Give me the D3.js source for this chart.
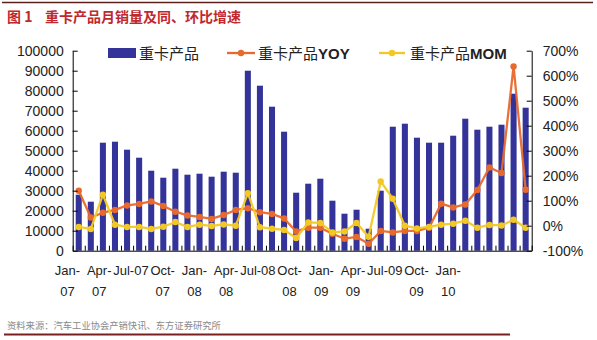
<!DOCTYPE html>
<html><head><meta charset="utf-8">
<script src="https://cdn.jsdelivr.net/npm/d3@7"></script>
<style>
body{margin:0;background:#fff;}
svg{display:block;font-family:"Liberation Sans",Arial,sans-serif;}
</style></head>
<body><svg id="c" width="597" height="340"></svg>
<script>
const months = ["Jan-07","Feb-07","Mar-07","Apr-07","May-07","Jun-07","Jul-07","Aug-07","Sep-07","Oct-07","Nov-07","Dec-07",
"Jan-08","Feb-08","Mar-08","Apr-08","May-08","Jun-08","Jul-08","Aug-08","Sep-08","Oct-08","Nov-08","Dec-08",
"Jan-09","Feb-09","Mar-09","Apr-09","May-09","Jun-09","Jul-09","Aug-09","Sep-09","Oct-09","Nov-09","Dec-09",
"Jan-10","Feb-10"];
const sales = [28000,24500,54000,54500,50500,46500,40000,36500,41000,38000,38500,37000,
39500,39000,90000,82500,72000,59500,29000,33500,36000,25000,18500,20500,
11000,30000,62000,63500,56500,54000,54000,57500,66000,60500,62000,63000,
78500,71500];
const yoy = [140,33,52,63,81,87,97,79,56,41,35,27,
43,63,70,54,47,29,-23,-8,-8,-32,-52,-45,
-72,-21,-27,-21,-21,-8,88,73,85,143,233,211,
637,144];
const mom = [-5,-13,124,4,-5,-5,-13,-4,15,-5,4,-1,
5,0,130,-6,-12,-17,-49,13,11,-27,-23,11,
-44,177,108,0,-11,-5,4,8,20,-8,3,1,
24,-8];
const tickLabels = ["Jan-07","Apr-07","Jul-07","Oct-07","Jan-08","Apr-08","Jul-08","Oct-08","Jan-09","Apr-09","Jul-09","Oct-09","Jan-10"];
const leftTicks = [0,10000,20000,30000,40000,50000,60000,70000,80000,90000,100000];
const rightTicks = [-100,0,100,200,300,400,500,600,700];
const seriesNames = ["重卡产品","重卡产品YOY","重卡产品MOM"];

const svg = d3.select("#c");
const X0 = 72.7, X1 = 531.7, Y0 = 250.7, Y1 = 50.7;
const C_BAR = "#333399", C_YOY = "#e8692c", C_MOM = "#f4c823", C_TITLE = "#c0282d";

const x = d3.scaleBand().domain(months).range([X0, X1]).paddingInner(0.5).paddingOuter(0.25);
const xi = d3.scaleLinear().domain([0, months.length]).range([X0, X1]);
const yL = d3.scaleLinear().domain([0, 100000]).range([Y0, Y1]);
const yR = d3.scaleLinear().domain([-100, 700]).range([Y0, Y1]);
const xl = d3.scalePoint().domain(tickLabels).range([67, 447.7]);

// top & bottom rules
svg.append("line").attr("x1",2).attr("x2",593).attr("y1",2.5).attr("y2",2.5).attr("stroke","#5c1f1a").attr("stroke-width",1.5);
svg.append("line").attr("x1",4).attr("x2",510).attr("y1",334.5).attr("y2",334.5).attr("stroke","#7a1f1f").attr("stroke-width",2);

// title
const t = svg.append("text").attr("x",7).attr("y",22).attr("fill",C_TITLE).attr("font-weight","bold").attr("font-size",14)
  .attr("font-family","'Noto Sans CJK SC',sans-serif");
t.append("tspan").text("图 1");
t.append("tspan").attr("x",45).text("重卡产品月销量及同、环比增速");

// bars
svg.append("g").selectAll("rect").data(sales).join("rect")
  .attr("x",(d,i)=>x(months[i])).attr("width",x.bandwidth())
  .attr("y",d=>yL(d)).attr("height",d=>Y0-yL(d)).attr("fill",C_BAR);

// lines
function drawLine(data, color){
  const g = svg.append("g");
  const line = d3.line().x((d,i)=>x(months[i])+x.bandwidth()/2).y(d=>yR(d));
  g.append("path").datum(data).attr("d",line).attr("fill","none").attr("stroke",color).attr("stroke-width",2.3).attr("stroke-linejoin","round").attr("opacity",0.95);
  g.selectAll("circle").data(data).join("circle")
    .attr("cx",(d,i)=>x(months[i])+x.bandwidth()/2).attr("cy",d=>yR(d)).attr("r",3.2).attr("fill",color);
}
drawLine(yoy, C_YOY);
drawLine(mom, C_MOM);

// axes
const axL = svg.append("g").attr("transform",`translate(${X0},0)`)
  .call(d3.axisLeft(yL).tickValues(leftTicks).tickSizeInner(-5).tickSizeOuter(0).tickPadding(9).tickFormat(d3.format("d")));
const axR = svg.append("g").attr("transform",`translate(${X1},0)`)
  .call(d3.axisRight(yR).tickValues(rightTicks).tickSizeInner(-5).tickSizeOuter(0).tickPadding(11).tickFormat(d=>d+"%"));
const axB = svg.append("g").attr("transform",`translate(0,${Y0})`)
  .call(d3.axisBottom(xi).tickValues(d3.range(0, months.length+1)).tickSizeInner(-5).tickSizeOuter(0).tickFormat(""));
[axL,axR,axB].forEach(a=>{
  a.selectAll("path,line").attr("stroke","#000").attr("stroke-width",1);
  a.selectAll("text").attr("font-size",14).attr("fill","#222").attr("font-family","'Liberation Sans',Arial,sans-serif");
});

// category labels
const axLab = svg.append("g").attr("transform",`translate(0,${Y0})`)
  .call(d3.axisBottom(xl).tickSize(0).tickPadding(0));
axLab.select(".domain").remove();
axLab.selectAll("text").attr("font-size",13).attr("fill","#222").attr("font-family","'Liberation Sans',Arial,sans-serif")
  .attr("y",0).attr("dy",null)
  .each(function(d){
    const el = d3.select(this);
    el.text(null);
    if (d.startsWith("Jul")) {
      el.append("tspan").attr("x",0).attr("y",24).text(d);
    } else {
      const p = d.split("-");
      el.append("tspan").attr("x",0).attr("y",24).text(p[0]+"-");
      el.append("tspan").attr("x",0).attr("y",45).text(p[1]);
    }
  });

// legend
const lg = svg.append("g").attr("font-size",15).attr("fill","#222").attr("font-family","'Noto Sans CJK SC',sans-serif");
lg.append("rect").attr("x",108).attr("y",48).attr("width",28).attr("height",10).attr("fill",C_BAR);
lg.append("text").attr("x",139).attr("y",58.5).text(seriesNames[0]);
function legLine(x1,x2,color,tx,name){
  lg.append("line").attr("x1",x1).attr("x2",x2).attr("y1",53).attr("y2",53).attr("stroke",color).attr("stroke-width",2.3);
  lg.append("circle").attr("cx",(x1+x2)/2).attr("cy",53).attr("r",3.2).attr("fill",color);
  const tt = lg.append("text").attr("x",tx).attr("y",58.5);
  tt.append("tspan").text(name.slice(0,4));
  tt.append("tspan").attr("font-weight","bold").attr("font-family","'Liberation Sans',Arial,sans-serif").text(name.slice(4));
}
legLine(227,255,C_YOY,258,seriesNames[1]);
legLine(379,405,C_MOM,410,seriesNames[2]);

// footer
svg.append("text").attr("x",7).attr("y",329).attr("font-size",9.3).attr("fill","#8a8a8a")
  .attr("font-family","'Noto Sans CJK SC',sans-serif").text("资料来源：汽车工业协会产销快讯、东方证券研究所");
</script></body></html>
